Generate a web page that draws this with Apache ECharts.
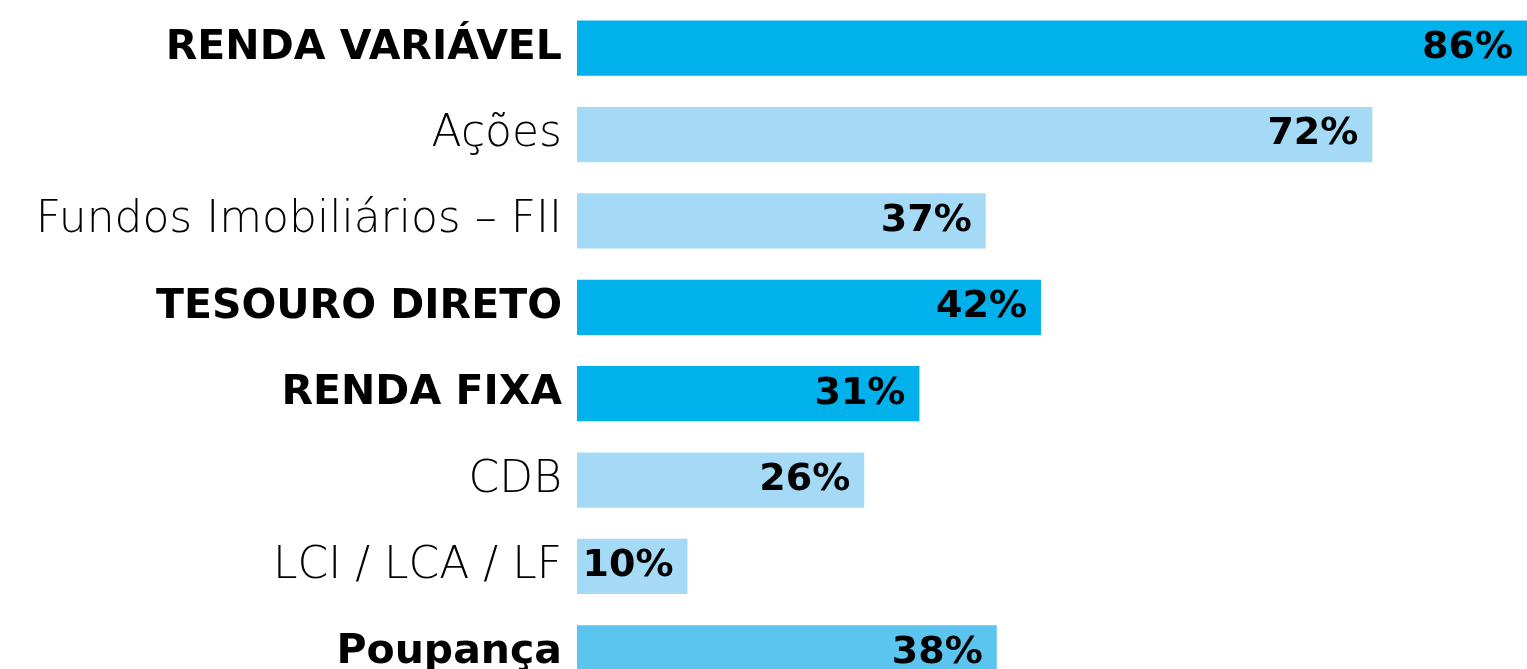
<!DOCTYPE html>
<html>
<head>
<meta charset="utf-8">
<script src="https://cdn.jsdelivr.net/npm/echarts@6/dist/echarts.min.js"></script>
<style>
  html, body { margin: 0; padding: 0; background: #fff; }
  #chart { width: 1527px; height: 669px; }
</style>
</head>
<body>
<div id="chart"></div>
<script>
// categorias de cima para baixo
const categories = ['RENDA VARIÁVEL', 'Ações', 'Fundos Imobiliários – FII', 'TESOURO DIRETO', 'RENDA FIXA', 'CDB', 'LCI / LCA / LF', 'Poupança']
const values = [86, 72, 37, 42, 31, 26, 10, 38]
// categorias principais (negrito)
const mainGroups = ['RENDA VARIÁVEL', 'TESOURO DIRETO', 'RENDA FIXA', 'Poupança']
const barColors = ['#00b1eb', '#a4daf6', '#a4daf6', '#00b1eb', '#00b1eb', '#a4daf6', '#a4daf6', '#5bc5f0']

const FONT = '"DejaVu Sans", sans-serif'
const chart = echarts.init(document.getElementById('chart'))

chart.setOption({
  animation: false,
  // a última barra fica cortada na borda de baixo
  grid: { left: 577, right: 0, top: 5, height: 691, containLabel: false, outerBoundsMode: 'none' },
  xAxis: {
    type: 'value',
    min: 0,
    max: 86,
    show: false
  },
  yAxis: {
    type: 'category',
    inverse: true,
    data: categories,
    axisLine: { show: false },
    axisTick: { show: false },
    axisLabel: {
      margin: 15,
      formatter: function(v) {
        return mainGroups.indexOf(v) >= 0 ? '{b|' + v + '}' : '{n|' + v + '}'
      },
      rich: {
        b: { fontFamily: FONT, fontSize: 41, fontWeight: 'bold', color: '#000' },
        n: { fontFamily: FONT, fontSize: 44, fontWeight: 200, color: '#000' }
      }
    }
  },
  series: [{
    type: 'bar',
    barWidth: '64%',
    data: values.map((v, i) => ({ value: v, itemStyle: { color: barColors[i] } })),
    label: {
      show: true,
      position: 'insideRight',
      distance: 14,
      formatter: '{c}%',
      fontFamily: FONT,
      fontSize: 38,
      fontWeight: 'bold',
      color: '#000'
    }
  }]
})
</script>
</body>
</html>
